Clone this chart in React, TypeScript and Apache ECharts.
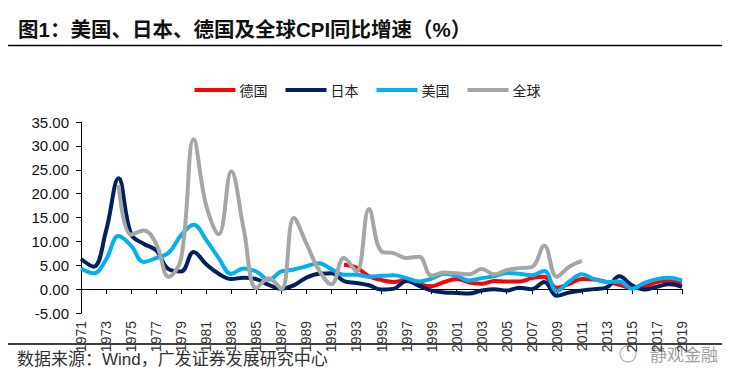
import React, { useEffect, useRef } from "react";
import * as echarts from "echarts";

const years: string[] = [];
for (let y = 1971; y <= 2019; y++) years.push(String(y));

const germany: (number | null)[] = [
  null, null, null, null, null, null, null, null, null, null,
  null, null, null, null, null, null, null, null, null, null,
  null,
  5.1, 4.5, 2.7, 1.9, 1.5, 1.9, 1.0, 0.6, 1.5,
  2.1, 1.4, 1.1, 1.7, 1.6, 1.6, 2.3, 2.6, 0.3, 1.1,
  2.1, 2.0, 1.5, 0.9, 0.2, 0.5, 1.5, 1.7, 1.4,
];

const japan: number[] = [
  6.3, 4.7, 12.2, 23.2, 11.5, 9.5, 8.1, 4.2, 3.7, 7.8,
  5.2, 3.2, 2.1, 2.4, 2.1, 0.9, 0.1, 0.8, 2.4, 3.2,
  3.3, 1.7, 1.3, 0.8, -0.1, 0.1, 1.7, 0.7, -0.3, -0.7,
  -0.8, -0.9, -0.3, 0.0, -0.3, 0.3, 0.0, 1.5, -1.4, -0.7,
  -0.3, 0.0, 0.4, 2.7, 0.8, -0.1, 0.5, 1.0, 0.5,
];

const usa: number[] = [
  4.3, 3.3, 6.2, 11.1, 9.1, 5.7, 6.5, 7.6, 11.3, 13.5,
  10.3, 6.5, 3.2, 4.3, 3.7, 2.0, 3.7, 4.1, 4.8, 5.4,
  4.2, 3.0, 3.0, 2.6, 2.8, 2.9, 2.3, 1.6, 2.2, 3.2,
  2.8, 1.8, 2.3, 2.7, 3.4, 3.2, 2.9, 3.8, -0.4, 1.6,
  3.1, 2.1, 1.5, 1.6, 0.1, 1.3, 2.1, 2.4, 1.8,
];

const world: (number | null)[] = [
  null, null, null,
  21.8, 11.4, 12.3, 9.5, 2.6, 6.5, 31.4, 17.5, 11.5, 24.7,
  12.5, 0.2, 2.3, 0.0, 14.9, 9.6, 4.0, 1.0, 6.5, 3.7,
  16.8, 7.9, 7.5, 6.5, 6.8, 2.8, 3.5, 3.3, 3.1, 4.2,
  3.1, 4.0, 4.4, 4.6, 9.1, 2.6, 4.7, 5.9,
  null, null, null, null, null, null, null, null,
];

const seriesNames = ["德国", "日本", "美国", "全球"];
const seriesColors = ["#FF0000", "#002060", "#00B0F0", "#A6A6A6"];
const seriesData = [germany, japan, usa, world];

const titleText = "图1：美国、日本、德国及全球CPI同比增速（%）";
const sourceText = "数据来源：Wind，广发证券发展研究中心";
const watermarkText = "静观金融";

const latin = "'Liberation Sans', Arial, 'Noto Sans CJK SC', sans-serif";

export default function App() {
  const ref = useRef<HTMLDivElement>(null);
  useEffect(() => {
    if (!ref.current) return;
    const chart = echarts.init(ref.current, null, { renderer: "svg" });
    chart.setOption({
      animation: false,
      backgroundColor: "#ffffff",
      textStyle: { fontFamily: latin },
      legend: {
        top: 78,
        left: "center",
        itemWidth: 41,
        itemHeight: 4,
        itemGap: 18,
        icon: "rect",
        textStyle: { fontSize: 14, color: "#222", fontFamily: "'Noto Sans CJK SC', serif", padding: [0, 0, 0, -1] },
        data: seriesNames,
      },
      grid: { left: 81, right: 53, top: 122, bottom: 73 },
      xAxis: {
        type: "category",
        boundaryGap: false,
        data: years,
        axisLine: { onZero: true, lineStyle: { color: "#000", width: 1 } },
        axisTick: { show: true, interval: 1, length: 5, lineStyle: { color: "#000" } },
        axisLabel: { interval: 1, rotate: 90, fontSize: 14, color: "#333", margin: 8, fontFamily: latin },
        splitLine: { show: false },
      },
      yAxis: {
        type: "value",
        min: -5,
        max: 35,
        interval: 5,
        axisLine: { show: true, lineStyle: { color: "#000", width: 1 } },
        axisTick: { show: true, length: 5, lineStyle: { color: "#000" } },
        axisLabel: {
          fontSize: 15,
          color: "#111",
          margin: 12,
          fontFamily: latin,
          formatter: (v: number) => v.toFixed(2),
        },
        splitLine: { show: false },
      },
      series: seriesNames.map((name, i) => ({
        name,
        type: "line",
        data: seriesData[i],
        smooth: 0.4,
        showSymbol: false,
        symbol: "none",
        connectNulls: false,
        itemStyle: { color: seriesColors[i] },
        lineStyle: { color: seriesColors[i], width: 4 },
      })),
      graphic: [
        {
          type: "text",
          left: 18,
          top: 19,
          style: {
            text: titleText,
            fontSize: 20.5,
            fontWeight: "bold",
            fill: "#111",
            fontFamily: latin,
          },
        },
        {
          type: "line",
          shape: { x1: 8, y1: 45.5, x2: 722, y2: 45.5 },
          style: { stroke: "#000", lineWidth: 1.5 },
        },
        {
          type: "line",
          shape: { x1: 8, y1: 344, x2: 722, y2: 344 },
          style: { stroke: "#000", lineWidth: 1.5 },
        },
        {
          type: "text",
          left: 17,
          top: 351,
          style: {
            text: sourceText,
            fontSize: 17,
            fill: "#333",
            fontFamily: latin,
          },
        },
        {
          type: "circle",
          shape: { cx: 628, cy: 354, r: 8 },
          style: { fill: "none", stroke: "#b0b0b0", lineWidth: 1.2 },
        },
        {
          type: "text",
          left: 650,
          top: 345,
          style: {
            text: watermarkText,
            fontSize: 17,
            fill: "#a0a0a0",
            fontFamily: "'Noto Sans CJK SC', sans-serif",
          },
        },
      ],
    });
    return () => chart.dispose();
  }, []);
  return (
    <div
      ref={ref}
      style={{ position: "fixed", left: 0, top: 0, width: 735, height: 386 }}
    />
  );
}
